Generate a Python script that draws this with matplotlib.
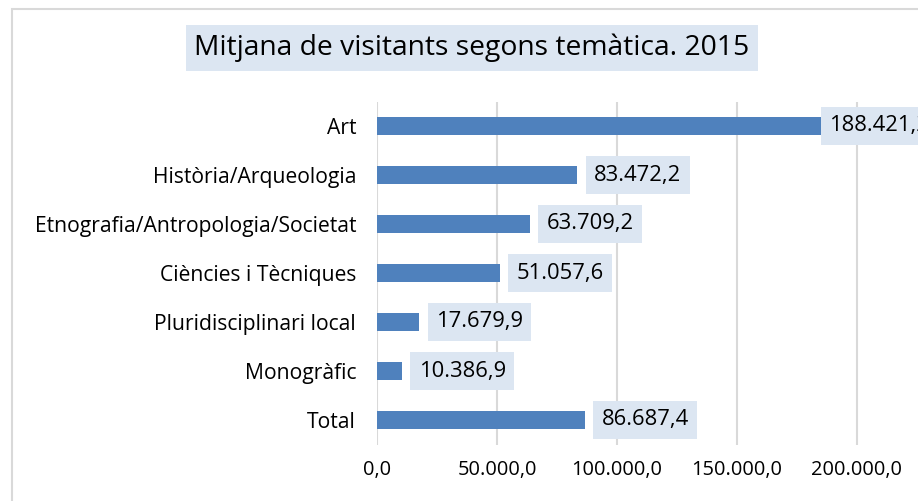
import matplotlib.pyplot as plt
from matplotlib.patches import Rectangle

# Data
categories = ["Art", "Història/Arqueologia", "Etnografia/Antropologia/Societat",
              "Ciències i Tècniques", "Pluridisciplinari local", "Monogràfic", "Total"]
values = [188421.2, 83472.2, 63709.2, 51057.6, 17679.9, 10386.9, 86687.4]
xticks = [0, 50000, 100000, 150000, 200000, 250000]

BAR_COLOR = "#4F81BD"
BOX_COLOR = "#DCE6F2"
GRID_COLOR = "#D9D9D9"
FONT = "Open Sans"


def fmt(v):
    # Catalan number format: 188.421,2
    s = f"{v:,.1f}"
    return s.replace(",", "X").replace(".", ",").replace("X", ".")


fig = plt.figure(figsize=(9.18, 5.01), dpi=100)
fig.patch.set_facecolor("white")

# chart frame (cropped at right and bottom)
fig.patches.append(Rectangle((12 / 918, -0.1), 1.2, (501 - 9) / 501 + 0.1,
                             transform=fig.transFigure, fill=False,
                             edgecolor=GRID_COLOR, linewidth=1.5))

ax = fig.add_axes([377 / 918, 56.5 / 501, 600 / 918, 343 / 501])
y = range(len(categories))
ax.barh(y, values, height=0.37, color=BAR_COLOR, zorder=3)
ax.set_xlim(0, 250000)
ax.set_ylim(len(categories) - 0.5, -0.5)
ax.set_yticks(list(y))
ax.set_yticklabels(categories, fontsize=15.2, family=FONT)
ax.set_xticks(xticks)
ax.set_xticklabels([fmt(t) for t in xticks], fontsize=14.4, family=FONT)
ax.tick_params(length=0, pad=11)
ax.tick_params(axis="y", pad=15)
ax.grid(axis="x", color=GRID_COLOR, linewidth=1.5, zorder=0)
for s in ax.spines.values():
    s.set_visible(False)

for i, v in enumerate(values):
    # the largest label is pushed back over the bar end, as Excel does
    dx = 0 if v == max(values) else 12
    ax.annotate(fmt(v), (v, i), xytext=(dx, 0), textcoords="offset points",
                va="center", ha="left", fontsize=15.8, family=FONT, zorder=4,
                bbox=dict(boxstyle="square,pad=0.38", facecolor=BOX_COLOR,
                          edgecolor="none"))

fig.text(472 / 918, 1 - 48 / 501, "Mitjana de visitants segons temàtica. 2015",
         ha="center", va="center", fontsize=20.3, family=FONT,
         bbox=dict(boxstyle="square,pad=0.3", facecolor=BOX_COLOR, edgecolor="none"))

fig.savefig("out.png", dpi=100)
